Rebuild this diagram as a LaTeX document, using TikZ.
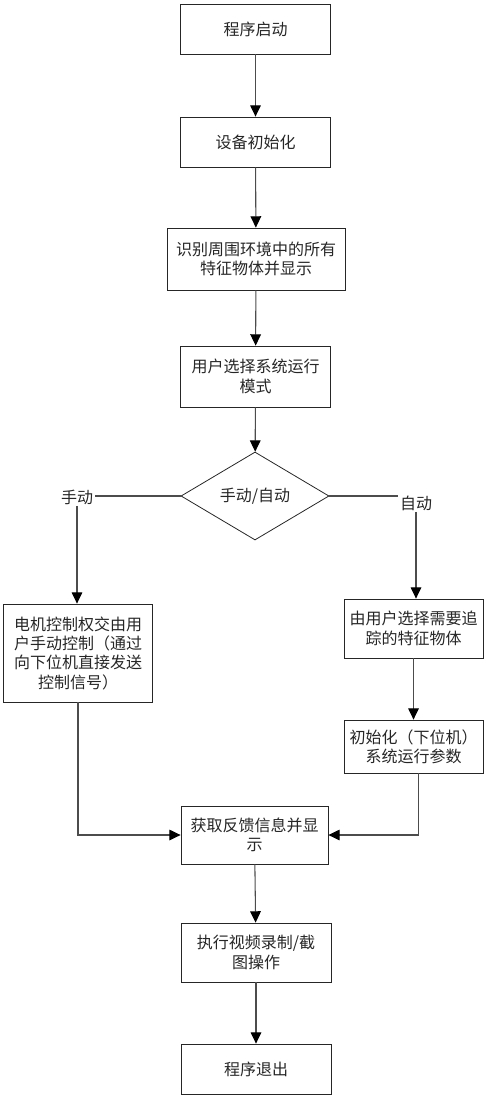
\documentclass[tikz,border=0pt]{standalone}
\usepackage{fontspec}
\setmainfont{Noto Sans CJK SC}
\usetikzlibrary{shapes.geometric, arrows.meta, positioning, calc}

\begin{document}
\begin{tikzpicture}[
    x=0.75pt, y=-0.75pt,
    font=\fontsize{12pt}{14.5pt}\selectfont,
    flowbox/.style={draw=black!85, line width=0.6pt, minimum width=112pt, minimum height=37.5pt, inner sep=1pt, align=center, text=black!85},
    decision/.style={draw=black!85, line width=0.6pt, diamond, aspect=1.68, minimum width=111pt, minimum height=66pt, inner sep=0pt, text=black!85},
    branchlbl/.style={inner sep=1pt, text=black!85},
    arrow/.style={-{Triangle[length=8.5pt, width=8pt, black]}, draw=black!70, line width=0.8pt},
    plain/.style={draw=black!70, line width=0.8pt}
]
\useasboundingbox (0,0) rectangle (496,1102);

\node[flowbox] (start) at (255.5,29) {程序启动};
\node[flowbox] (init) at (255.5,142) {设备初始化};
\node[flowbox, minimum width=133.5pt, minimum height=46.5pt] (detect) at (256,259) {识别周围环境中的所有\\特征物体并显示};
\node[flowbox, minimum height=45.75pt] (mode) at (255.5,376.5) {用户选择系统运行\\模式};
\node[decision] (decide) at (255,496) {手动/自动};
\node[branchlbl] (manlbl) at (77,497) {手动};
\node[branchlbl] (autolbl) at (416,503) {自动};
\node[flowbox, minimum width=111.75pt, minimum height=73.5pt] (manual) at (78,653) {电机控制权交由用\\户手动控制（通过\\向下位机直接发送\\控制信号）};
\node[flowbox, minimum width=104.25pt, minimum height=44.25pt] (target) at (413.5,628.5) {由用户选择需要追\\踪的特征物体};
\node[flowbox, minimum width=104.25pt, minimum height=39.75pt] (param) at (413.5,746.5) {初始化（下位机）\\系统运行参数};
\node[flowbox, minimum width=110.25pt, minimum height=43.5pt] (feedback) at (254.5,835) {获取反馈信息并显\\示};
\node[flowbox, minimum width=112.5pt, minimum height=44.25pt] (record) at (256,952.5) {执行视频录制/截\\图操作};
\node[flowbox, minimum width=112.5pt] (quit) at (256,1069) {程序退出};

\draw[arrow] (start) -- (init);
\draw[arrow] (init) -- (detect);
\draw[arrow] (detect) -- (mode);
\draw[arrow] (mode) -- (decide);
\draw[plain] (decide.west) -- (manlbl.east |- decide.west);
\draw[plain] (decide.east) -- (autolbl.west |- decide.east);
\draw[arrow] (manlbl.south) -- (manual.north -| manlbl.south);
\draw[arrow] (autolbl.south) -- (target.north -| autolbl.south);
\draw[arrow] (target) -- (param);
\draw[arrow] (manual.south) |- (feedback.west);
\draw[arrow] ([xshift=3.5pt]param.south) |- (feedback.east);
\draw[arrow] (feedback) -- (record);
\draw[arrow] (record) -- (quit);
\end{tikzpicture}
\end{document}
